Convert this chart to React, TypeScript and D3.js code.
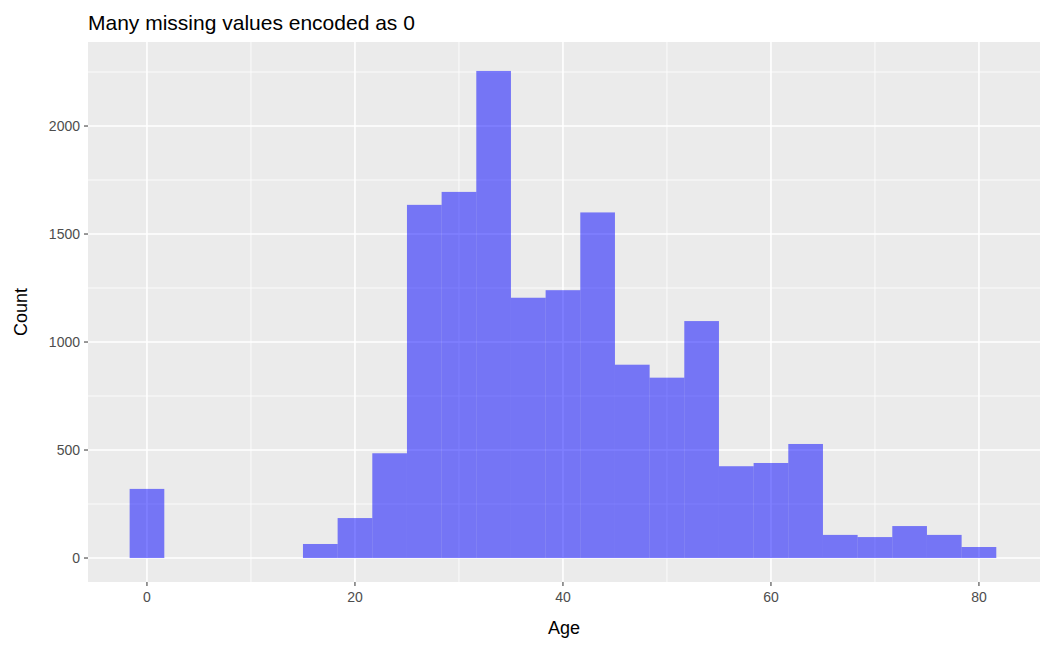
import * as React from 'react'
import * as d3 from 'd3'

const width = 1050
const height = 648
const panel = { left: 88, right: 1040, top: 42, bottom: 582 }

// 25 bins of width 80/24 centred on 0, 3.33, ... 80
const binWidth = 80 / 24
const counts = [320, 0, 0, 0, 0, 65, 185, 485, 1635, 1695, 2255, 1205, 1240, 1600, 895, 835, 1097, 425, 440, 528, 107, 97, 148, 107, 51]
const xTicks = [0, 20, 40, 60, 80]
const xMinor = [10, 30, 50, 70]
const yTicks = [0, 500, 1000, 1500, 2000]
const yMinor = [250, 750, 1250, 1750, 2250]

const App = () => {
  const x = d3.scaleLinear().domain([-5.67, 85.87]).range([panel.left, panel.right])
  const y = d3.scaleLinear().domain([-111, 2389]).range([panel.bottom, panel.top])
  const font = 'Liberation Sans, Arial, sans-serif'

  return (
    <svg width={width} height={height} style={{ position: 'absolute', left: 0, top: 0 }} fontFamily={font}>
      <rect width={width} height={height} fill="white" />
      <rect x={panel.left} y={panel.top} width={panel.right - panel.left} height={panel.bottom - panel.top} fill="#EBEBEB" />
      {yMinor.map(t => <line key={'ym' + t} x1={panel.left} x2={panel.right} y1={y(t)} y2={y(t)} stroke="white" strokeWidth={0.8} />)}
      {xMinor.map(t => <line key={'xm' + t} y1={panel.top} y2={panel.bottom} x1={x(t)} x2={x(t)} stroke="white" strokeWidth={0.8} />)}
      {yTicks.map(t => <line key={'y' + t} x1={panel.left} x2={panel.right} y1={y(t)} y2={y(t)} stroke="white" strokeWidth={1.6} />)}
      {xTicks.map(t => <line key={'x' + t} y1={panel.top} y2={panel.bottom} x1={x(t)} x2={x(t)} stroke="white" strokeWidth={1.6} />)}
      {counts.map((c, i) => {
        const c0 = i * binWidth
        return c > 0 ? (
          <rect key={i} x={x(c0 - binWidth / 2)} width={x(c0 + binWidth / 2) - x(c0 - binWidth / 2)}
            y={y(c)} height={y(0) - y(c)} fill="blue" fillOpacity={0.5} />
        ) : null
      })}
      {yTicks.map(t => (
        <g key={'yt' + t}>
          <line x1={panel.left - 4} x2={panel.left} y1={y(t)} y2={y(t)} stroke="#333" />
          <text x={panel.left - 8} y={y(t)} dy="0.35em" textAnchor="end" fontSize={14} fill="#4D4D4D">{t}</text>
        </g>
      ))}
      {xTicks.map(t => (
        <g key={'xt' + t}>
          <line y1={panel.bottom} y2={panel.bottom + 4} x1={x(t)} x2={x(t)} stroke="#333" />
          <text x={x(t)} y={panel.bottom + 20} textAnchor="middle" fontSize={14} fill="#4D4D4D">{t}</text>
        </g>
      ))}
      <text x={(panel.left + panel.right) / 2} y={634} textAnchor="middle" fontSize={18}>Age</text>
      <text transform={`translate(27, ${(panel.top + panel.bottom) / 2}) rotate(-90)`} textAnchor="middle" fontSize={18}>Count</text>
      <text x={panel.left} y={30} fontSize={21}>Many missing values encoded as 0</text>
    </svg>
  )
}

export default App
